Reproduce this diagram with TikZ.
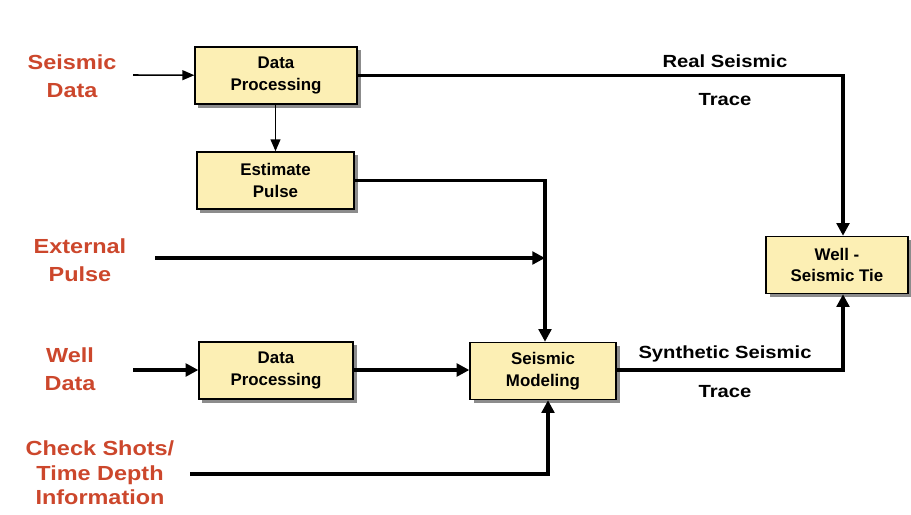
\documentclass[tikz,border=0pt]{standalone}
\usepackage{fontspec}
\setmainfont{Liberation Sans}
\newfontfamily\widefont[FakeStretch=1.15]{Liberation Sans}
\usetikzlibrary{arrows.meta,shadows}
\definecolor{boxyellow}{HTML}{FCEFB4}
\definecolor{srcred}{HTML}{CC472C}

\begin{document}
\begin{tikzpicture}[x=0.025cm,y=-0.025cm,
	block/.style={draw,line width=0.9pt,fill=boxyellow,align=center,inner sep=0pt,
		minimum height=1.43cm,font=\bfseries\fontsize{12}{15.5}\selectfont,
		drop shadow={shadow xshift=2.5pt,shadow yshift=-2.5pt,fill=black!45,opacity=1}},
	source/.style={text=srcred,align=center,font=\widefont\bfseries\fontsize{14.5}{19.5}\selectfont},
	tag/.style={font=\widefont\bfseries\fontsize{12.5}{14}\selectfont},
	flow/.style={line width=2.2pt,-{Triangle[length=9pt,width=9pt]}},
	feed/.style={line width=1.1pt,-{Triangle[length=8.5pt,width=7pt]}}]
\useasboundingbox (0,0) rectangle (911,514);

% processing blocks
\node[block,minimum width=4.05cm] (proc1) at (276,75.5) {Data\\Processing};
\node[block,minimum width=3.93cm] (pulse) at (275.5,180.5) {Estimate\\Pulse};
\node[block,minimum width=3.85cm] (proc2) at (276,370.5) {Data\\Processing};
\node[block,minimum width=3.65cm] (model) at (543,371) {Seismic\\Modeling};
\node[block,minimum width=3.55cm] (tie) at (837,265) {Well -\\Seismic Tie};

% inputs
\node[source] (seis) at (72,76) {Seismic\\Data};
\node[source] (ext) at (80,260) {External\\Pulse};
\node[source] (well) at (70,369) {Well\\Data};
\node[source,font=\widefont\bfseries\fontsize{14.5}{17.5}\selectfont] (chk) at (100,473) {Check Shots/\\Time Depth\\Information};

% trace labels
\node[tag] (real) at (725,61) {Real Seismic};
\node[tag] (realtr) at (725,100) {Trace};
\node[tag] (syn) at (725,354) {Synthetic Seismic};
\node[tag] (syntr) at (725,392) {Trace};

\coordinate (join) at (545,258);

\draw[feed] (133,75) -- (proc1);
\draw[feed] (proc1.south -| pulse.north) -- (pulse);
\draw[flow] (proc1.east) -| (tie.north -| 843,0);
\draw[flow] (pulse.east) -| (model.north -| join);
\draw[flow] (155,258) -- (join);
\draw[flow] (133,370) -- (proc2.west |- 0,370);
\draw[flow] (proc2.east |- 0,370) -- (model.west |- 0,370);
\draw[flow] (190,474) -| (model.south -| 548,0);
\draw[flow] (model.east |- 0,370) -| (tie.south -| 843,0);
\end{tikzpicture}
\end{document}
